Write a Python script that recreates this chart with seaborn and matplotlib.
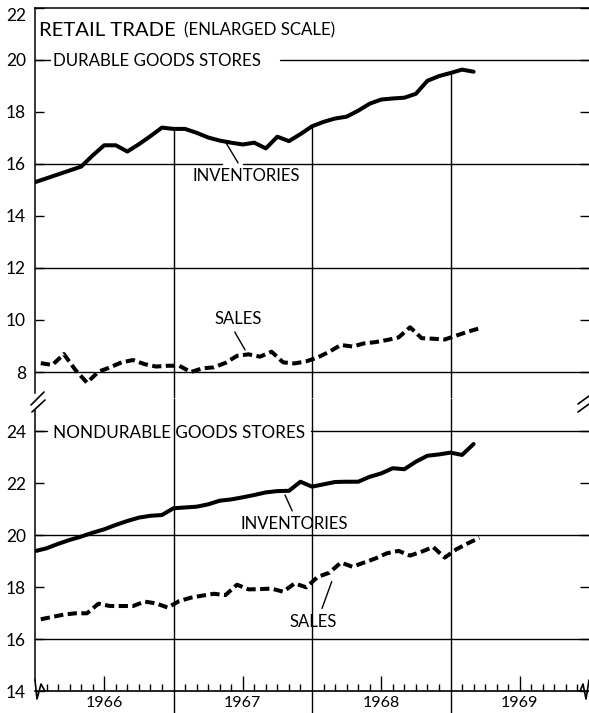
import matplotlib
matplotlib.use("Agg")
import matplotlib.pyplot as plt
import pandas as pd
import seaborn as sns
from matplotlib.lines import Line2D

# Monthly series, billions of dollars.
# Inventories are end-of-month (Dec 1965 .. Feb 1969); sales are monthly (Jan 1966 .. Mar 1969).
durable_inventories = [15.30, 15.45, 15.60, 15.75, 15.90, 16.33, 16.72, 16.72, 16.48, 16.76,
                       17.07, 17.40, 17.35, 17.35, 17.20, 17.02, 16.90, 16.82, 16.75, 16.82,
                       16.60, 17.05, 16.88, 17.15, 17.45, 17.62, 17.75, 17.82, 18.05, 18.32,
                       18.48, 18.52, 18.55, 18.70, 19.20, 19.38, 19.50, 19.63, 19.55]
durable_sales = [8.34, 8.27, 8.69, 8.08, 7.59, 8.01, 8.18, 8.37, 8.46, 8.30,
                 8.21, 8.24, 8.24, 8.00, 8.14, 8.18, 8.35, 8.62, 8.68, 8.59,
                 8.78, 8.37, 8.33, 8.41, 8.56, 8.78, 9.04, 8.98, 9.10, 9.15,
                 9.23, 9.33, 9.72, 9.30, 9.28, 9.25, 9.40, 9.55, 9.68]
nondurable_inventories = [19.39, 19.50, 19.67, 19.82, 19.95, 20.10, 20.23, 20.40, 20.55, 20.68,
                          20.75, 20.78, 21.04, 21.07, 21.10, 21.19, 21.33, 21.38, 21.46, 21.55,
                          21.65, 21.70, 21.71, 22.06, 21.87, 21.96, 22.05, 22.06, 22.06, 22.25,
                          22.38, 22.58, 22.54, 22.83, 23.06, 23.11, 23.18, 23.09, 23.51]
nondurable_sales = [16.77, 16.86, 16.95, 17.00, 17.00, 17.37, 17.28, 17.28, 17.28, 17.45,
                    17.38, 17.22, 17.47, 17.60, 17.68, 17.75, 17.70, 18.10, 17.92, 17.93,
                    17.95, 17.83, 18.15, 18.00, 18.40, 18.56, 18.95, 18.79, 18.95, 19.11,
                    19.31, 19.40, 19.22, 19.37, 19.55, 19.14, 19.46, 19.69, 19.90]
year_labels = ["1966", "1967", "1968", "1969"]

inv_months = [float(m) for m in range(len(durable_inventories))]
sales_months = [m + 0.5 for m in range(len(durable_sales))]


def panel_frame(inventories, sales):
    return pd.concat([
        pd.DataFrame({"month": inv_months, "value": inventories, "series": "INVENTORIES"}),
        pd.DataFrame({"month": sales_months, "value": sales, "series": "SALES"}),
    ], ignore_index=True)


durable = panel_frame(durable_inventories, durable_sales)
nondurable = panel_frame(nondurable_inventories, nondurable_sales)

sns.set_theme(style="white")
plt.rcParams["font.family"] = ["Lato", "DejaVu Sans"]

W, H = 589, 713
fig = plt.figure(figsize=(W / 100, H / 100), dpi=100)


def fx(px):
    return px / W


def fy(py):
    return 1 - py / H


ax_top = fig.add_axes([fx(35), fy(398), (W - 35) / W, (398 - 8) / H])
ax_bot = fig.add_axes([fx(35), fy(691.3), (W - 35) / W, (691.3 - 398) / H])

line_dashes = {"INVENTORIES": "", "SALES": (2.3, 1.1)}
for ax, df in ((ax_top, durable), (ax_bot, nondurable)):
    sns.lineplot(data=df, x="month", y="value", style="series", dashes=line_dashes,
                 color="black", linewidth=2.9, estimator=None, legend=False, ax=ax)
    ax.set_xlim(0, 48)
    ax.set_xlabel("")
    ax.set_ylabel("")
    ax.spines["right"].set_visible(False)
    ax.spines["left"].set_color("black")
    ax.spines["left"].set_linewidth(1.1)
    ax.tick_params(axis="y", which="major", direction="in", length=6.5, width=1.0,
                   left=True, right=True, labelsize=12.5, pad=6.5, colors="black")

grid_kw = dict(color="black", lw=1.0, zorder=1)

# Upper panel: durable goods
ax_top.set_ylim(7.0, 22)
ax_top.set_yticks(range(8, 23, 2))
ax_top.spines["bottom"].set_visible(False)
ax_top.spines["top"].set_color("black")
ax_top.spines["top"].set_linewidth(1.1)
ax_top.spines["left"].set_bounds(7.2, 22)
ax_top.set_xticks([])
ax_top.yaxis.get_majorticklabels()[-1].set_verticalalignment("top")
for v in (8, 12):
    ax_top.axhline(v, **grid_kw)
ax_top.axhline(16, xmin=0, xmax=0.3375, **grid_kw)
ax_top.axhline(16, xmin=0.3755, xmax=1, **grid_kw)
ax_top.axhline(20, xmin=0, xmax=0.027, **grid_kw)
ax_top.axhline(20, xmin=0.442, xmax=1, **grid_kw)
for m in (12, 24, 36):
    ax_top.vlines(m, 7.0, durable_inventories[m], color="black", lw=1.0, zorder=1)

# Lower panel: nondurable goods
ax_bot.set_ylim(14, 25.28)
ax_bot.set_yticks(range(14, 25, 2))
ax_bot.spines["top"].set_visible(False)
ax_bot.spines["bottom"].set_color("black")
ax_bot.spines["bottom"].set_linewidth(1.2)
ax_bot.spines["left"].set_bounds(14.45, 24.8)
for v in (16, 20):
    ax_bot.axhline(v, **grid_kw)
ax_bot.axhline(24, xmin=0, xmax=0.0217, **grid_kw)
ax_bot.axhline(24, xmin=0.498, xmax=1, **grid_kw)
ax_bot.vlines([12, 24, 36], 13.17, 25.28, color="black", lw=1.0, zorder=1, clip_on=False)

ax_bot.set_xticks([6, 18, 30, 42])
ax_bot.set_xticklabels(year_labels)
ax_bot.set_xticks([m for m in range(1, 48) if m % 12 not in (0, 6)], minor=True)
ax_bot.tick_params(axis="x", which="major", direction="in", length=11, width=1.0,
                   bottom=True, labelsize=11.5, pad=3.5, colors="black")
ax_bot.tick_params(axis="x", which="minor", direction="in", length=5, width=1.0,
                   bottom=True, colors="black")

# Series labels with leader lines
lead = dict(arrowstyle="-", color="black", lw=1.0, shrinkA=1.5, shrinkB=0)
txt = dict(fontsize=12, color="black", ha="center", va="center")
ax_top.annotate("INVENTORIES", xy=(16.46, 16.88), xytext=(18.28, 15.54),
                arrowprops=lead, **txt)
ax_top.annotate("SALES", xy=(18.2, 8.85), xytext=(17.63, 10.04),
                arrowprops=dict(lead, relpos=(0.36, 0.0)), **txt)
ax_bot.annotate("INVENTORIES", xy=(21.66, 21.55), xytext=(22.49, 20.43),
                arrowprops=dict(lead, relpos=(0.5, 1.0)), **txt)
ax_bot.annotate("SALES", xy=(25.71, 18.22), xytext=(24.13, 16.68),
                arrowprops=dict(lead, relpos=(0.64, 1.0)), **txt)

# Headings
fig.text(fx(39), fy(36), "RETAIL TRADE", fontsize=14.6, color="black", va="baseline")
fig.text(fx(184), fy(35), "(ENLARGED SCALE)", fontsize=12.2, color="black", va="baseline")
fig.text(fx(53), fy(65.7), "DURABLE GOODS STORES", fontsize=12.2, color="black", va="baseline")
fig.text(fx(53), fy(438), "NONDURABLE GOODS STORES", fontsize=12.3, color="black", va="baseline")

# Scale-break marks between the panels and at the foot of the axis
brk = dict(color="black", lw=1.2)
for (x0, y0, x1, y1) in [(31, 405, 44, 392), (32, 412, 45, 400),
                         (578, 404, 589, 396), (578, 412, 589, 404)]:
    fig.add_artist(Line2D([fx(x0), fx(x1)], [fy(y0), fy(y1)], **brk))
for xs, ys in [([35, 37, 41, 45], [680, 699, 684, 691.3]),
               ([580, 583, 586, 589], [691.3, 684, 699, 680])]:
    fig.add_artist(Line2D([fx(x) for x in xs], [fy(y) for y in ys], **brk))

fig.savefig("out.png", dpi=100, facecolor="white")
